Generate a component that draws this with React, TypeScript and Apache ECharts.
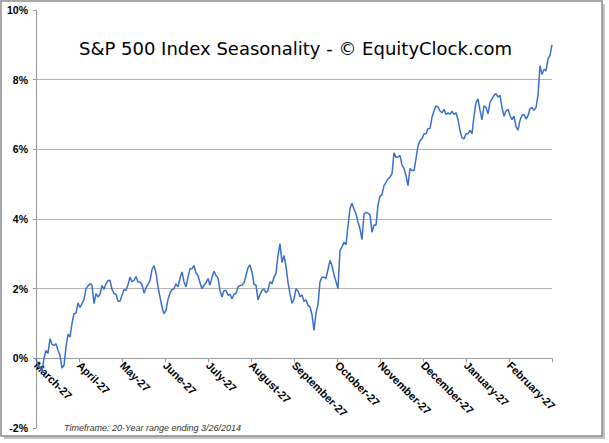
import React, { useEffect, useRef } from "react";
import * as echarts from "echarts";

const months = [
  "March-27", "April-27", "May-27", "June-27", "July-27", "August-27",
  "September-27", "October-27", "November-27", "December-27", "January-27", "February-27",
];

const yTicks = { min: -2, max: 10, step: 2 };

// Average seasonal cumulative return (%), evenly spaced trading days from March 27 to March 26
const seasonality = [
  0.00, -0.22, -0.25, -0.39, 0.00, 0.23, 0.14, 0.57, 0.40, 0.37,
  0.42, 0.23, 0.08, -0.28, -0.20, 0.32, 0.69, 0.61, 1.00, 1.28,
  1.30, 1.59, 1.46, 1.57, 1.69, 2.00, 2.08, 2.14, 2.10, 1.57,
  1.86, 1.76, 1.84, 2.09, 1.98, 2.14, 2.23, 2.24, 1.98, 1.86,
  1.84, 1.64, 1.64, 1.81, 1.97, 1.95, 2.11, 2.33, 2.20, 2.24,
  2.35, 2.19, 2.19, 2.12, 1.87, 2.02, 2.12, 2.24, 2.55, 2.66,
  2.45, 2.05, 1.76, 1.47, 1.28, 1.38, 1.69, 1.87, 1.97, 2.00,
  2.14, 2.05, 2.30, 2.48, 2.20, 2.05, 2.33, 2.57, 2.57, 2.67,
  2.45, 2.38, 2.17, 2.00, 2.10, 2.17, 2.29, 2.10, 2.33, 2.50,
  2.38, 2.31, 1.95, 1.76, 1.95, 1.95, 1.81, 1.84, 1.71, 1.84,
  1.86, 2.05, 2.09, 2.10, 2.17, 2.38, 2.60, 2.68, 2.48, 2.12,
  2.10, 1.68, 1.83, 1.95, 1.99, 1.88, 1.95, 2.20, 2.14, 2.33,
  2.43, 2.96, 3.29, 2.75, 2.95, 2.65, 2.18, 1.85, 1.58, 1.70,
  2.00, 1.93, 1.77, 1.82, 1.63, 1.68, 1.52, 1.48, 1.25, 0.80,
  1.30, 1.55, 2.20, 2.33, 2.33, 2.30, 2.55, 2.81, 2.66, 2.40,
  2.20, 2.00, 3.10, 3.20, 3.33, 3.26, 3.80, 4.30, 4.45, 4.28,
  4.15, 3.91, 3.72, 3.41, 4.15, 4.19, 4.16, 4.12, 3.62, 3.83,
  3.82, 4.40, 4.65, 4.70, 4.96, 5.05, 5.15, 5.20, 5.30, 5.90,
  5.77, 5.78, 5.82, 5.55, 5.45, 5.25, 4.96, 5.45, 5.39, 5.39,
  5.73, 6.10, 6.25, 6.30, 6.45, 6.45, 6.59, 6.60, 6.92, 7.10,
  7.25, 7.22, 7.10, 7.05, 7.15, 7.00, 7.05, 7.00, 7.10, 7.00,
  7.05, 6.85, 6.54, 6.33, 6.30, 6.45, 6.45, 6.54, 6.45, 6.95,
  7.35, 7.45, 7.12, 6.85, 7.25, 7.20, 7.02, 7.35, 7.45, 7.55,
  7.60, 7.50, 7.55, 7.20, 6.95, 7.10, 7.15, 6.97, 6.85, 6.95,
  6.65, 6.55, 6.83, 6.98, 7.00, 6.87, 6.97, 7.17, 7.20, 7.12,
  7.20, 7.55, 8.40, 8.15, 8.30, 8.25, 8.60, 8.70, 9.00,
];

const titleText = "S&P 500 Index Seasonality - \u00A9 EquityClock.com";
const footerText = "Timeframe: 20-Year range ending 3/26/2014";

const GRID = { left: 36, right: 57, top: 10, bottom: 15 };
const HEIGHT = 443;

export default function App() {
  const ref = useRef<HTMLDivElement>(null);

  useEffect(() => {
    if (!ref.current) return;
    const chart = echarts.init(ref.current, undefined, { renderer: "svg" });
    const n = seasonality.length;
    const data = seasonality.map((v, i) => [(i * months.length) / (n - 1), v]);
    const gridH = HEIGHT - GRID.top - GRID.bottom;
    const zeroOffset = -gridH * ((0 - yTicks.min) / (yTicks.max - yTicks.min));

    chart.setOption({
      animation: false,
      backgroundColor: "#ffffff",
      title: {
        text: titleText,
        left: 74,
        top: 34,
        textStyle: {
          fontFamily: "DejaVu Sans",
          fontSize: 18,
          fontWeight: "normal",
          color: "#000",
        },
      },
      graphic: [
        {
          type: "rect",
          z: -10,
          silent: true,
          shape: { x: 4, y: 4, width: 601, height: 435 },
          style: { fill: "#c4c4c4", stroke: "none" },
        },
        {
          type: "rect",
          z: -9,
          silent: true,
          shape: { x: 1, y: 1, width: 601, height: 435 },
          style: { fill: "#ffffff", stroke: "#8c8c8c", lineWidth: 1.5 },
        },
        {
          type: "text",
          left: 64,
          top: 423,
          style: {
            text: footerText,
            fontFamily: "Liberation Sans",
            fontStyle: "italic",
            fontSize: 9,
            fill: "#333",
          },
        },
      ],
      grid: {
        ...GRID,
        containLabel: false,
        outerBoundsMode: "none",
      },
      xAxis: {
        type: "value",
        min: 0,
        max: months.length,
        interval: 1,
        position: "bottom",
        offset: zeroOffset,
        axisLine: { onZero: false, lineStyle: { color: "#9a9a9a", width: 1 } },
        axisTick: { show: true, length: 4, lineStyle: { color: "#9a9a9a" } },
        splitLine: { show: false },
        axisLabel: {
          rotate: -45,
          margin: 5,
          fontFamily: "Liberation Sans",
          fontWeight: "bold",
          fontSize: 11,
          color: "#000",
          formatter: (v: number) => months[Math.round(v)] ?? "",
        },
      },
      yAxis: {
        type: "value",
        min: yTicks.min,
        max: yTicks.max,
        interval: yTicks.step,
        axisLine: { show: true, lineStyle: { color: "#9a9a9a", width: 1 } },
        axisTick: { show: true, length: 3, lineStyle: { color: "#9a9a9a" } },
        axisLabel: {
          formatter: "{value}%",
          fontFamily: "Liberation Sans",
          fontWeight: "bold",
          fontSize: 10.5,
          color: "#000",
          margin: 8,
        },
        splitLine: {
          show: true,
          showMinLine: false,
          showMaxLine: false,
          lineStyle: { color: "#b3b3b3", width: 1 },
        },
      },
      series: [
        {
          type: "line",
          data,
          showSymbol: false,
          symbol: "none",
          lineStyle: { color: "#3b6fcc", width: 1.5 },
          z: 3,
        },
      ],
    });

    return () => chart.dispose();
  }, []);

  return (
    <div
      ref={ref}
      style={{ position: "absolute", left: 0, top: 0, width: 609, height: 443 }}
    />
  );
}
